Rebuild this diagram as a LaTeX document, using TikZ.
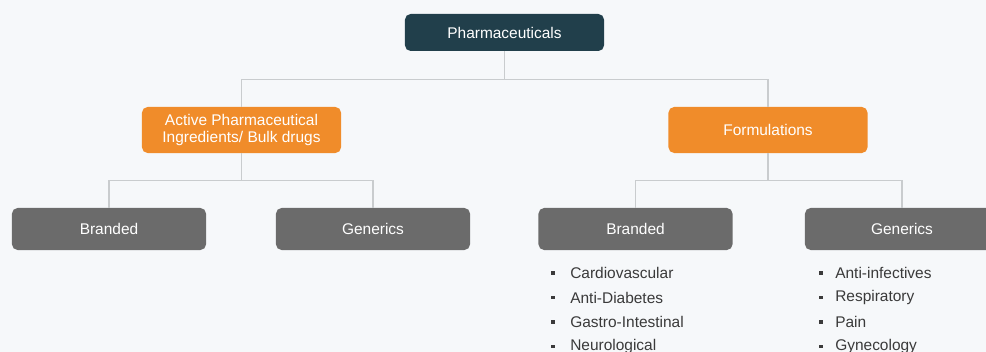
\documentclass[tikz,border=0pt]{standalone}
\usepackage{fontspec}
\setmainfont{Liberation Sans}
\usetikzlibrary{positioning}
\definecolor{pagebg}{HTML}{F6F8FA}
\definecolor{topteal}{HTML}{213F4B}
\definecolor{midorange}{HTML}{F08C2A}
\definecolor{leafgray}{HTML}{6B6B6B}
\definecolor{linkgray}{HTML}{C9CCCE}
\definecolor{itemtext}{HTML}{3A3A3A}
\begin{document}
\begin{tikzpicture}[x=0.025cm, y=-0.025cm,
    box/.style={rounded corners=4pt, text=white, align=center, inner sep=0pt,
      font=\fontsize{11}{11.5}\selectfont},
    topbox/.style={box, fill=topteal, minimum width=4.975cm, minimum height=0.925cm},
    midbox/.style={box, fill=midorange, minimum width=4.975cm, minimum height=1.15cm},
    leafbox/.style={box, fill=leafgray, minimum width=4.85cm, minimum height=1.05cm},
    link/.style={draw=linkgray, line width=0.8pt},
    item/.style={anchor=west, inner sep=0pt, text=itemtext, font=\fontsize{11}{12}\selectfont},
    dot/.style={rectangle, fill=itemtext, inner sep=0pt, minimum size=2.6pt}]
    \useasboundingbox (0,0) rectangle (986,352);
    \clip (0,0) rectangle (986,352);
    \fill[pagebg] (0,0) rectangle (986,352);
    % Pharmaceuticals tree
    \node[topbox] (pharma) at (504.5,32.5) {Pharmaceuticals};
    \node[midbox] (api) at (241.5,130) {Active Pharmaceutical\\Ingredients/ Bulk drugs};
    \node[midbox] (form) at (768,130) {Formulations};
    \node[leafbox] (apibrand) at (109,229) {Branded};
    \node[leafbox] (apigen) at (373,229) {Generics};
    \node[leafbox] (formbrand) at (635.5,229) {Branded};
    \node[leafbox] (formgen) at (902,229) {Generics};
    \draw[link] (pharma.south) -- ++(0,28) -| (api.north);
    \draw[link] (pharma.south) -- ++(0,28) -| (form.north);
    \draw[link] (api.south) -- ++(0,27) -| (apibrand.north);
    \draw[link] (api.south) -- ++(0,27) -| (apigen.north);
    \draw[link] (form.south) -- ++(0,27) -| (formbrand.north);
    \draw[link] (form.south) -- ++(0,27) -| (formgen.north);
    % therapy areas
    \foreach \i/\name in {1/Cardiovascular, 2/Anti-Diabetes, 3/Gastro-Intestinal, 4/Neurological} {
        \node[dot] (bdot\i) at (553,248.5+24.5*\i) {};
        \node[item] (bitem\i) at (570,248.5+24.5*\i) {\name};
    }
    \foreach \i/\name in {1/Anti-infectives, 2/Respiratory, 3/Pain, 4/Gynecology} {
        \node[dot] (gdot\i) at (821,248.5+24.5*\i) {};
        \node[item] (gitem\i) at (835,248.5+24.5*\i) {\name};
    }
\end{tikzpicture}
\end{document}
